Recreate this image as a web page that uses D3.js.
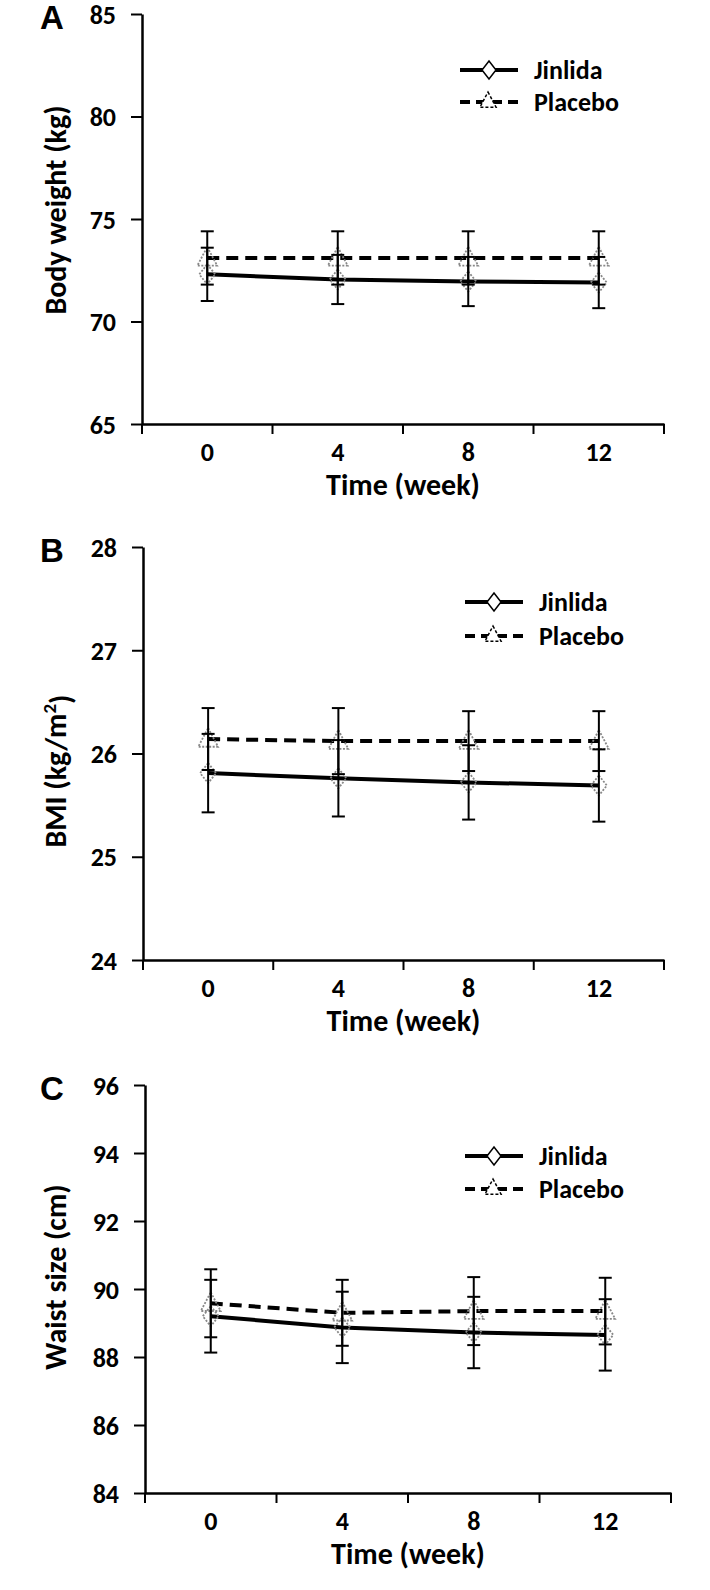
<!DOCTYPE html>
<html>
<head>
<meta charset="utf-8">
<script src="https://cdnjs.cloudflare.com/ajax/libs/d3/7.8.5/d3.min.js"></script>
<style>
  html, body { margin: 0; padding: 0; background: #fff; }
  svg { display: block; }
  .lbl { font-family: Carlito, Lato, "Open Sans", sans-serif; font-weight: 700; fill: #000; }
</style>
</head>
<body>
<svg id="chart" width="710" height="1590"></svg>
<script>
// ---------- data ----------
const weeks = ["0", "4", "8", "12"];
const seriesNames = ["Jinlida", "Placebo"];

const weightJinlida   = [72.3, 72.05, 71.95, 71.9];
const weightJinlidaSD = [1.3, 1.2, 1.2, 1.25];
const weightPlacebo   = [73.1, 73.1, 73.1, 73.1];
const weightPlaceboSD = [1.3, 1.3, 1.3, 1.3];
const weightTicks     = [65, 70, 75, 80, 85];

const bmiJinlida   = [25.81, 25.76, 25.72, 25.69];
const bmiJinlidaSD = [0.38, 0.37, 0.36, 0.35];
const bmiPlacebo   = [26.14, 26.12, 26.12, 26.12];
const bmiPlaceboSD = [0.30, 0.32, 0.29, 0.29];
const bmiTicks     = [24, 25, 26, 27, 28];

const waistJinlida   = [89.2, 88.87, 88.72, 88.65];
const waistJinlidaSD = [1.07, 1.05, 1.05, 1.05];
const waistPlacebo   = [89.58, 89.3, 89.35, 89.35];
const waistPlaceboSD = [1.0, 0.97, 1.0, 0.98];
const waistTicks     = [84, 86, 88, 90, 92, 94, 96];

// ---------- layout (positions/styles, not data) ----------
const panels = [
  { letter: "A", title: "Body weight (kg)", ticks: weightTicks,
    jin: weightJinlida, jinSD: weightJinlidaSD, pla: weightPlacebo, plaSD: weightPlaceboSD,
    x0: 142, x1: 664, yTop: 14, yBot: 424, titleY: 210, legX: 460, legY: 70, legGap: 32 },
  { letter: "B", title: "BMI", ticks: bmiTicks,
    jin: bmiJinlida, jinSD: bmiJinlidaSD, pla: bmiPlacebo, plaSD: bmiPlaceboSD,
    x0: 143, x1: 664, yTop: 547, yBot: 960, titleY: 771, legX: 465, legY: 602, legGap: 34 },
  { letter: "C", title: "Waist size (cm)", ticks: waistTicks,
    jin: waistJinlida, jinSD: waistJinlidaSD, pla: waistPlacebo, plaSD: waistPlaceboSD,
    x0: 145, x1: 671, yTop: 1085, yBot: 1493, titleY: 1277, legX: 465, legY: 1156, legGap: 33 }
];

const svg = d3.select("#chart");

panels.forEach(p => {
  const g = svg.append("g");
  const x = d3.scaleBand().domain(weeks).range([p.x0, p.x1]);
  const y = d3.scaleLinear().domain([p.ticks[0], p.ticks[p.ticks.length - 1]]).range([p.yBot, p.yTop]);
  const cx = d => x(d) + x.bandwidth() / 2;

  // y axis
  const ya = g.append("g").attr("transform", `translate(${p.x0},0)`)
    .call(d3.axisLeft(y).tickValues(p.ticks).tickSize(11).tickSizeOuter(0).tickPadding(15).tickFormat(d3.format("d")));
  ya.select(".domain").attr("stroke-width", 2.5);
  ya.selectAll(".tick line").attr("stroke-width", 2);
  ya.selectAll(".tick text").attr("class", "lbl").style("font-size", "26px").attr("dy", "0.35em");

  // x axis
  const xa = g.append("g").attr("transform", `translate(0,${p.yBot})`)
    .call(d3.axisBottom(x).tickSize(0).tickSizeOuter(0).tickPadding(0));
  xa.select(".domain").attr("stroke-width", 2.5);
  xa.selectAll(".tick text").attr("class", "lbl").style("font-size", "26px")
    .attr("y", 28).attr("dy", "0.35em");
  const edges = weeks.map(d => x(d)).concat([x.range()[1]]);
  g.selectAll(".xedge").data(edges).enter().append("line")
    .attr("x1", d => d).attr("x2", d => d)
    .attr("y1", p.yBot).attr("y2", p.yBot + 10)
    .attr("stroke", "#000").attr("stroke-width", 2);

  // x title
  g.append("text").attr("class", "lbl").style("font-size", "30px")
    .attr("x", (p.x0 + p.x1) / 2 + 0).attr("y", p.yBot + 60).attr("dy", "0.35em")
    .attr("text-anchor", "middle").text("Time (week)");

  // y title
  const yt = g.append("text").attr("class", "lbl").style("font-size", "30px")
    .attr("transform", `translate(55,${p.titleY}) rotate(-90)`)
    .attr("text-anchor", "middle").attr("dy", "0.35em");
  if (p.letter === "B") {
    yt.append("tspan").text("BMI (kg/m");
    yt.append("tspan").attr("dy", "-0.5em").style("font-size", "19px").text("2");
    yt.append("tspan").attr("dy", "0.5em").text(")");
  } else {
    yt.text(p.title);
  }

  // panel letter
  g.append("text").attr("x", 40).attr("y", p.yTop + 15)
    .style("font-family", "'Liberation Sans', Arial, sans-serif").style("font-weight", 700)
    .style("font-size", "33px").text(p.letter);

  // series
  const jinData = weeks.map((w, i) => ({ w, v: p.jin[i], sd: p.jinSD[i] }));
  const plaData = weeks.map((w, i) => ({ w, v: p.pla[i], sd: p.plaSD[i] }));
  const line = d3.line().x(d => cx(d.w)).y(d => y(d.v));

  g.append("path").datum(plaData).attr("d", line)
    .attr("fill", "none").attr("stroke", "#000").attr("stroke-width", 4).attr("stroke-dasharray", "12,7");
  g.append("path").datum(jinData).attr("d", line)
    .attr("fill", "none").attr("stroke", "#000").attr("stroke-width", 4);

  // markers (grey dotted outlines)
  const diamond = (cx0, cy0, w, h) => `M${cx0},${cy0 - h}L${cx0 + w},${cy0}L${cx0},${cy0 + h}L${cx0 - w},${cy0}Z`;
  const tri = (cx0, cy0, s) => `M${cx0},${cy0 - s}L${cx0 + s * 0.9},${cy0 + s * 0.7}L${cx0 - s * 0.9},${cy0 + s * 0.7}Z`;
  g.selectAll(".mj").data(jinData).enter().append("path")
    .attr("d", d => diamond(cx(d.w), y(d.v), 8, 10))
    .attr("fill", "none").attr("stroke", "#888").attr("stroke-width", 1.8).attr("stroke-dasharray", "2,1.5");
  g.selectAll(".mp").data(plaData).enter().append("path")
    .attr("d", d => tri(cx(d.w), y(d.v), 11))
    .attr("fill", "none").attr("stroke", "#888").attr("stroke-width", 1.8).attr("stroke-dasharray", "2,1.5");

  // error bars
  [jinData, plaData].forEach(data => {
    const eb = g.append("g");
    data.forEach(d => {
      const xx = cx(d.w);
      eb.append("line").attr("x1", xx).attr("x2", xx).attr("y1", y(d.v - d.sd)).attr("y2", y(d.v + d.sd))
        .attr("stroke", "#000").attr("stroke-width", 2);
      [d.v - d.sd, d.v + d.sd].forEach(v => {
        eb.append("line").attr("x1", xx - 6.5).attr("x2", xx + 6.5).attr("y1", y(v)).attr("y2", y(v))
          .attr("stroke", "#000").attr("stroke-width", 2);
      });
    });
  });

  // legend
  const lg = g.append("g");
  const lx0 = p.legX, lx1 = p.legX + 58, lmid = p.legX + 29;
  lg.append("line").attr("x1", lx0).attr("x2", lx1).attr("y1", p.legY).attr("y2", p.legY)
    .attr("stroke", "#000").attr("stroke-width", 4);
  lg.append("path").attr("d", diamond(lmid, p.legY, 7, 9)).attr("fill", "#fff").attr("stroke", "#000").attr("stroke-width", 1.5);
  lg.append("text").attr("class", "lbl").style("font-size", "26px")
    .attr("x", lx1 + 16).attr("y", p.legY).attr("dy", "0.35em").text(seriesNames[0]);
  const py = p.legY + p.legGap;
  lg.append("line").attr("x1", lx0).attr("x2", lx1).attr("y1", py).attr("y2", py)
    .attr("stroke", "#000").attr("stroke-width", 4).attr("stroke-dasharray", "10,6");
  lg.append("path").attr("d", tri(lmid - 1, py - 1, 9)).attr("fill", "#fff")
    .attr("stroke", "#000").attr("stroke-width", 1.5).attr("stroke-dasharray", "3,2");
  lg.append("text").attr("class", "lbl").style("font-size", "26px")
    .attr("x", lx1 + 16).attr("y", py).attr("dy", "0.35em").text(seriesNames[1]);
});
</script>
</body>
</html>
